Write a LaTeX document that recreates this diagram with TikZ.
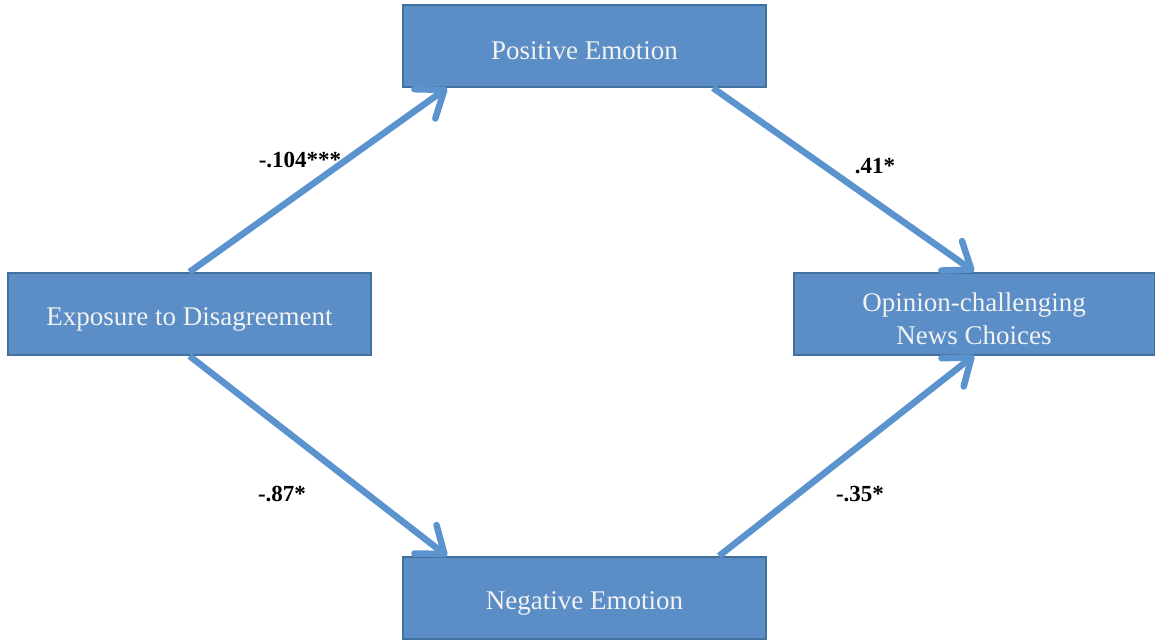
\documentclass[tikz,border=0pt]{standalone}
\usepackage{fontspec}
\setmainfont{Liberation Serif}
\usetikzlibrary{arrows.meta,calc}
\definecolor{boxfill}{HTML}{5B8EC6}
\definecolor{boxline}{HTML}{41719C}
\definecolor{arrowcol}{HTML}{5B93CF}
\definecolor{boxtext}{HTML}{F2F2F2}
\newcommand{\dnshift}[1]{\raisebox{-5pt}[\height][\depth]{#1}}
\tikzset{
  varbox/.style={rectangle, draw=boxline, line width=2pt, fill=boxfill,
    minimum width=363pt, minimum height=82pt, inner sep=0pt,
    text=boxtext, font=\fontsize{27}{33}\selectfont, align=center},
  patharrow/.style={draw=arrowcol, line width=6.5pt,
    -{Straight Barb[length=24pt, width=36pt, round]}},
  coef/.style={font=\bfseries\fontsize{23}{26}\selectfont, text=black}
}
\begin{document}
\begin{tikzpicture}[x=1pt,y=-1pt]
\useasboundingbox (0,0) rectangle (1155,639);
\node[varbox] (pos) at (584.5,46) {\dnshift{Positive Emotion}};
\node[varbox] (exp) at (189.5,314) {\dnshift{Exposure to Disagreement}};
\node[varbox, minimum width=361pt] (opi) at (974,313.5) {\dnshift{Opinion-challenging}\\\dnshift{News Choices}};
\node[varbox] (neg) at (584.5,598) {\dnshift{Negative Emotion}};

\draw[patharrow] (exp.north) -- ($(pos.south west)+(45,0)$);
\draw[patharrow] ($(pos.south east)+(-54,0)$) -- (opi.north);
\draw[patharrow] (exp.south) -- ($(neg.north west)+(45,0)$);
\draw[patharrow] ($(neg.north east)+(-48,0)$) -- (opi.south);

\node[coef] (c1) at (300,160) {-.104***};
\node[coef] (c2) at (875,166) {.41*};
\node[coef] (c3) at (282,494) {-.87*};
\node[coef] (c4) at (860,494) {-.35*};
\end{tikzpicture}
\end{document}
